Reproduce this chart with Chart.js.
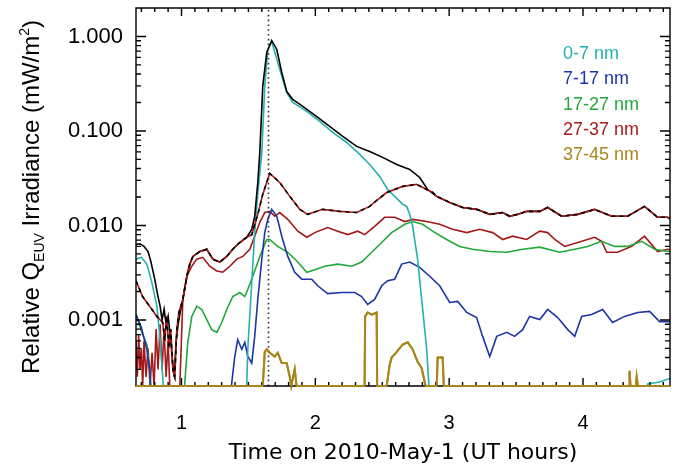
<!DOCTYPE html>
<html>
<head>
<meta charset="utf-8">
<script src="https://cdn.jsdelivr.net/npm/chart.js@4"></script>
<style>
  html, body { margin: 0; padding: 0; background: #fff; }
  #wrap { width: 680px; height: 470px; }
</style>
</head>
<body>
<div id="wrap"><canvas id="euv"></canvas></div>
<script>
// axis ranges and tick labels
var xMin = 0.66, xMax = 4.65;
var yMin = 0.0002, yMax = 2;
var xTicks = [1, 2, 3, 4];
var yTicks = [0.001, 0.01, 0.1, 1];
var flareTime = 1.65;

var bandLabels = ["0-7 nm", "7-17 nm", "17-27 nm", "27-37 nm", "37-45 nm"];
var bandColors = ["#26b0b0", "#1c36a6", "#22a83a", "#a81c1c", "#a8861c"];

// total (black)
var totalT = [0.66, 0.69, 0.72, 0.75, 0.77, 0.80, 0.82, 0.84, 0.855, 0.87,
  0.885, 0.90, 0.915, 0.93, 0.945, 0.96, 0.975, 0.99, 1.01, 1.04,
  1.062, 1.085, 1.137, 1.189, 1.234, 1.286, 1.338, 1.383, 1.435, 1.488,
  1.525, 1.547, 1.570, 1.585, 1.607, 1.637, 1.674, 1.712, 1.749, 1.786,
  1.831, 1.906, 2.011, 2.107, 2.205, 2.309, 2.406, 2.503, 2.608, 2.705,
  2.780, 2.839, 2.907, 3.004, 3.101, 3.205, 3.303, 3.400, 3.452, 3.52,
  3.579, 3.677, 3.736, 3.841, 3.960, 4.087, 4.214, 4.333, 4.460, 4.557,
  4.632, 4.65];
var totalV = [0.0063, 0.0064, 0.0060, 0.0053, 0.0042, 0.0027, 0.0019, 0.0014, 0.0010, 0.0013,
  0.0009, 0.0011, 0.0007, 0.0004, 0.00025, 0.0006, 0.0009, 0.0012, 0.00165, 0.0029,
  0.0039, 0.0047, 0.0053, 0.0056, 0.0044, 0.0041, 0.0047, 0.0056, 0.0066, 0.0075,
  0.0091, 0.0125, 0.0285, 0.059, 0.296, 0.677, 0.907, 0.728, 0.416, 0.262,
  0.216, 0.182, 0.142, 0.112, 0.0875, 0.0686, 0.0607, 0.0525, 0.0442, 0.0392,
  0.0322, 0.024, 0.0203, 0.0175, 0.0155, 0.0148, 0.0131, 0.0137, 0.0125, 0.0132,
  0.0141, 0.0141, 0.0155, 0.0125, 0.0131, 0.0148, 0.0125, 0.0125, 0.0159, 0.0122,
  0.0122, 0.0118];

// sum without 0-7 nm (dashed)
var sumT = [0.66, 0.709, 0.763, 0.816, 0.86, 0.875, 0.89, 0.905, 0.92, 0.935,
  0.95, 0.965, 0.98, 1.01, 1.04, 1.062, 1.085, 1.137, 1.189, 1.234,
  1.286, 1.338, 1.383, 1.435, 1.488, 1.525, 1.570, 1.607, 1.659, 1.734,
  1.809, 1.884, 1.943, 2.055, 2.182, 2.309, 2.406, 2.466, 2.533, 2.653,
  2.757, 2.832, 2.877, 2.907, 3.004, 3.101, 3.205, 3.303, 3.400, 3.452,
  3.52, 3.579, 3.677, 3.736, 3.841, 3.960, 4.087, 4.214, 4.333, 4.460,
  4.557, 4.632, 4.65];
var sumV = [0.0026, 0.00177, 0.00139, 0.00109, 0.00094, 0.0006, 0.0011, 0.0005, 0.0008, 0.0003,
  0.00025, 0.0008, 0.0012, 0.00165, 0.0029, 0.0039, 0.0047, 0.0053, 0.0056, 0.0044,
  0.0041, 0.0047, 0.0056, 0.0066, 0.0075, 0.0080, 0.0131, 0.0213, 0.0355, 0.0285,
  0.0203, 0.0148, 0.0131, 0.0148, 0.0141, 0.0137, 0.0159, 0.0188, 0.0223, 0.0259,
  0.0272, 0.024, 0.0223, 0.0203, 0.0175, 0.0155, 0.0148, 0.0131, 0.0137, 0.0125,
  0.0132, 0.0141, 0.0141, 0.0155, 0.0125, 0.0131, 0.0148, 0.0125, 0.0125, 0.0159,
  0.0122, 0.0122, 0.0118];

// 0-7 nm
var c07T = [0.66, 0.70, 0.741, 0.778, 0.816, 0.838, 0.86, 0.875, 1.48, 1.488,
  1.495, 1.525, 1.547, 1.570, 1.600, 1.622, 1.645, 1.674, 1.734, 1.786,
  1.831, 1.936, 2.033, 2.130, 2.234, 2.332, 2.406, 2.481, 2.540, 2.593,
  2.653, 2.682, 2.705, 2.727, 2.764, 2.802, 2.832, 2.847, 2.86, 4.47,
  4.483, 4.572, 4.65];
var c07V = [0.0044, 0.0046, 0.0039, 0.0025, 0.0014, 0.00067, 0.00025, 0.0001, 0.0001, 0.00022,
  0.00049, 0.0025, 0.0084, 0.022, 0.059, 0.296, 0.728, 0.885, 0.448, 0.255,
  0.200, 0.161, 0.126, 0.0965, 0.0755, 0.0564, 0.0442, 0.033, 0.024, 0.0203,
  0.0167, 0.0159, 0.0131, 0.0098, 0.0044, 0.0013, 0.00049, 0.00022, 0.0001, 0.0001,
  0.00021, 0.00022, 0.00024];

// 7-17 nm
var b717T = [0.659, 0.666, 0.70, 0.741, 0.763, 0.78, 1.36, 1.376, 1.398, 1.420,
  1.450, 1.473, 1.495, 1.525, 1.547, 1.570, 1.600, 1.622, 1.645, 1.674,
  1.712, 1.749, 1.794, 1.846, 1.898, 1.973, 2.018, 2.092, 2.197, 2.294,
  2.346, 2.391, 2.443, 2.496, 2.540, 2.593, 2.645, 2.705, 2.780, 2.854,
  2.929, 3.004, 3.064, 3.131, 3.205, 3.250, 3.303, 3.355, 3.430, 3.489,
  3.549, 3.601, 3.677, 3.736, 3.811, 3.886, 3.938, 3.990, 4.064, 4.147,
  4.221, 4.311, 4.408, 4.498, 4.572, 4.632, 4.65];
var b717V = [0.00114, 0.00109, 0.00083, 0.00049, 0.0003, 0.0001, 0.0001, 0.00022, 0.00041, 0.00062,
  0.00049, 0.00058, 0.00041, 0.00035, 0.00067, 0.00165, 0.0044, 0.0084, 0.0116, 0.0148,
  0.0125, 0.0077, 0.0047, 0.0032, 0.0027, 0.0027, 0.0023, 0.0019, 0.00195, 0.00195,
  0.00177, 0.00146, 0.00165, 0.0023, 0.0026, 0.0027, 0.0039, 0.0041, 0.0036, 0.0029,
  0.0023, 0.00153, 0.00157, 0.0012, 0.00106, 0.00067, 0.00041, 0.00067, 0.00074, 0.00067,
  0.00079, 0.00109, 0.00101, 0.00129, 0.00106, 0.00079, 0.00067, 0.00109, 0.00114, 0.00129,
  0.00094, 0.00109, 0.0012, 0.00123, 0.00096, 0.00096, 0.00096];

// 17-27 nm
var g1727T = [0.66, 0.709, 0.741, 0.763, 0.78, 1.01, 1.025, 1.047, 1.077, 1.114,
  1.152, 1.189, 1.226, 1.264, 1.301, 1.338, 1.383, 1.435, 1.473, 1.495,
  1.532, 1.585, 1.637, 1.659, 1.719, 1.794, 1.869, 1.936, 1.996, 2.070,
  2.167, 2.272, 2.346, 2.421, 2.496, 2.570, 2.668, 2.727, 2.802, 2.877,
  2.981, 3.078, 3.175, 3.303, 3.430, 3.549, 3.677, 3.826, 3.938, 4.035,
  4.139, 4.236, 4.333, 4.438, 4.535, 4.632, 4.65];
var g1727V = [0.00114, 0.0007, 0.00055, 0.00029, 0.0001, 0.0001, 0.00022, 0.00058, 0.00109, 0.00139,
  0.00129, 0.00101, 0.00079, 0.00074, 0.00094, 0.00129, 0.00177, 0.00195, 0.00177, 0.0021,
  0.00288, 0.0047, 0.0071, 0.0071, 0.006, 0.0052, 0.0041, 0.0032, 0.0034, 0.0037,
  0.0039, 0.0037, 0.0041, 0.0052, 0.0066, 0.0084, 0.0103, 0.011, 0.0103, 0.0087,
  0.0071, 0.006, 0.0056, 0.0053, 0.0052, 0.0056, 0.0059, 0.0052, 0.0056, 0.006,
  0.0068, 0.006, 0.006, 0.0068, 0.0056, 0.0053, 0.0053];

// 27-37 nm
var r2737T = [0.66, 0.67, 0.68, 0.69, 0.70, 0.71, 0.72, 0.735, 0.75, 0.765,
  0.78, 0.795, 0.81, 0.825, 0.84, 0.855, 0.87, 0.885, 0.90, 0.92,
  0.98, 1.01, 1.04, 1.077, 1.114, 1.159, 1.211, 1.264, 1.308, 1.361,
  1.413, 1.458, 1.510, 1.547, 1.585, 1.622, 1.659, 1.697, 1.734, 1.794,
  1.869, 1.936, 1.996, 2.092, 2.167, 2.242, 2.317, 2.369, 2.443, 2.518,
  2.593, 2.668, 2.727, 2.832, 2.929, 3.026, 3.131, 3.228, 3.325, 3.400,
  3.475, 3.579, 3.677, 3.736, 3.789, 3.863, 3.960, 4.087, 4.139, 4.177,
  4.259, 4.363, 4.460, 4.557, 4.632, 4.65];
var r2737V = [0.0006, 0.00025, 0.0007, 0.0003, 0.0005, 0.0002, 0.0006, 0.00025, 0.0005, 0.0002,
  0.00045, 0.0002, 0.0008, 0.0003, 0.0009, 0.0003, 0.0008, 0.00025, 0.0006, 0.0001,
  0.0001, 0.00165, 0.0029, 0.0037, 0.0044, 0.0046, 0.0037, 0.0033, 0.0032, 0.0037,
  0.0044, 0.0047, 0.0056, 0.0077, 0.0108, 0.0137, 0.0141, 0.0125, 0.0137, 0.0116,
  0.0087, 0.0075, 0.0084, 0.0095, 0.0087, 0.0080, 0.0087, 0.0080, 0.0098, 0.0122,
  0.0122, 0.011, 0.0116, 0.011, 0.0103, 0.0091, 0.0084, 0.0091, 0.0084, 0.0071,
  0.0077, 0.0071, 0.0087, 0.0084, 0.0071, 0.006, 0.0066, 0.0075, 0.0068, 0.0052,
  0.0052, 0.006, 0.0077, 0.0053, 0.0056, 0.0055];

// 37-45 nm (sits on the axis floor most of the time)
var y3745T = [0.66, 1.607, 1.622, 1.637, 1.659, 1.697, 1.719, 1.749, 1.786, 1.809,
  1.82, 1.846, 1.86, 2.368, 2.372, 2.391, 2.421, 2.458, 2.462, 2.533,
  2.555, 2.570, 2.608, 2.653, 2.690, 2.727, 2.764, 2.794, 2.817, 2.825,
  2.907, 2.914, 2.951, 2.96, 4.345, 4.348, 4.355, 4.395, 4.401, 4.41,
  4.65];
var y3745V = [0.0002, 0.0002, 0.00046, 0.00049, 0.00045, 0.00041, 0.00045, 0.00035, 0.00035, 0.00025,
  0.0002, 0.0003, 0.0002, 0.0002, 0.00109, 0.0012, 0.00114, 0.0012, 0.0002, 0.0002,
  0.00033, 0.0004, 0.00046, 0.00055, 0.00058, 0.00049, 0.00036, 0.00031, 0.00022, 0.0002,
  0.0002, 0.0004, 0.0004, 0.0002, 0.0002, 0.00029, 0.0002, 0.0002, 0.00025, 0.0002,
  0.0002];

// tick mark values (minor and major)
var xTickMarks = [];
for (var n = 7; n <= 46; n++) xTickMarks.push(n / 10);
var yTickMarks = [];
[0.0001, 0.001, 0.01, 0.1, 1].forEach(function (d) {
  for (var m = 1; m <= 9; m++) yTickMarks.push(m * d);
});

function pts(ts, vs) {
  return ts.map(function (t, j) { return { x: t, y: vs[j] }; });
}

function curve(data, color, extra) {
  var ds = {
    data: data,
    borderColor: color,
    borderWidth: 1.6,
    pointRadius: 0,
    fill: false,
    tension: 0,
  };
  Object.keys(extra).forEach(function (key) { ds[key] = extra[key]; });
  return ds;
}

var GOLD = 8; // index of the 37-45 nm dataset

// frame plus inward tick marks on all four sides, one path
var inTicks = {
  id: "inTicks",
  afterDraw: function (chart) {
    var ctx = chart.ctx, a = chart.chartArea;
    var L = a.left, R = a.right, T = a.top, B = a.bottom;
    var lMin = Math.log(yMin), lMax = Math.log(yMax);
    ctx.save();
    ctx.strokeStyle = "#000";
    ctx.lineWidth = 1.4;
    ctx.beginPath();
    ctx.rect(L, T, R - L, B - T);
    xTickMarks.forEach(function (v) {
      var px = L + (v - xMin) / (xMax - xMin) * (R - L);
      var len = xTicks.indexOf(v) >= 0 ? 8 : 4;
      ctx.moveTo(px, B); ctx.lineTo(px, B - len);
      ctx.moveTo(px, T); ctx.lineTo(px, T + len);
    });
    yTickMarks.forEach(function (v) {
      if (v < yMin || v > yMax) return;
      var py = B - (Math.log(v) - lMin) / (lMax - lMin) * (B - T);
      var len = yTicks.indexOf(v) >= 0 ? 10 : 5;
      ctx.moveTo(L, py); ctx.lineTo(L + len, py);
      ctx.moveTo(R, py); ctx.lineTo(R - len, py);
    });
    ctx.stroke();
    ctx.restore();
    // the 37-45 nm curve lies on the bottom axis, keep it on top
    var meta = chart.getDatasetMeta(GOLD);
    if (meta && meta.controller) meta.controller.draw();
  },
};

// legend and y title
var labelsPlugin = {
  id: "labelsText",
  afterDraw: function (chart) {
    var ctx = chart.ctx, a = chart.chartArea;
    ctx.save();
    ctx.font = '18px "Liberation Sans", Arial, sans-serif';
    ctx.textBaseline = "alphabetic";
    ctx.textAlign = "left";
    bandLabels.forEach(function (lab, k) {
      ctx.fillStyle = bandColors[k];
      ctx.fillText(lab, a.right - 107, a.top + 51 + k * 25.3);
    });
    var parts = [
      ["Relative Q", 24, 0],
      ["EUV", 14, 5],
      [" Irradiance (mW/m", 24, 0],
      ["2", 14, -10],
      [")", 24, 0],
    ];
    var total = 0;
    parts.forEach(function (p) {
      ctx.font = p[1] + 'px "Liberation Sans", Arial, sans-serif';
      p.push(ctx.measureText(p[0]).width);
      total += p[3];
    });
    ctx.translate(39, 197);
    ctx.rotate(-Math.PI / 2);
    ctx.fillStyle = "#000";
    var cx = -total / 2;
    parts.forEach(function (p) {
      ctx.font = p[1] + 'px "Liberation Sans", Arial, sans-serif';
      ctx.fillText(p[0], cx, p[2]);
      cx += p[3];
    });
    ctx.restore();
  },
};

new Chart(document.getElementById("euv"), {
  type: "line",
  data: {
    datasets: [
      curve(pts([flareTime, flareTime], [yMin, yMax]), "#333", { borderWidth: 1.6, borderDash: [1.6, 3.2] }),
      curve(pts(sumT, sumV), "#000", { borderDash: [4, 4] }),
      curve(pts(sumT, sumV), "#b01818", {}),
      curve(pts(totalT, totalV), "#000", {}),
      curve(pts(c07T, c07V), bandColors[0], {}),
      curve(pts(b717T, b717V), bandColors[1], {}),
      curve(pts(g1727T, g1727V), bandColors[2], {}),
      curve(pts(r2737T, r2737V), "#a31818", {}),
      curve(pts(y3745T, y3745V), bandColors[4], { borderWidth: 2, clip: false }),
    ],
  },
  options: {
    responsive: true,
    maintainAspectRatio: false,
    animation: false,
    events: [],
    layout: { padding: { left: 0, top: 8, right: 10, bottom: 0 } },
    plugins: { legend: { display: false }, tooltip: { enabled: false } },
    scales: {
      x: {
        type: "linear",
        min: xMin,
        max: xMax,
        grid: { display: false, drawTicks: false },
        border: { display: false },
        afterBuildTicks: function (s) { s.ticks = xTicks.map(function (v) { return { value: v }; }); },
        afterFit: function (s) { s.height = 84; },
        ticks: {
          padding: 25,
          color: "#000",
          font: { family: '"Liberation Sans", Arial, sans-serif', size: 20 },
          callback: function (v) { return String(v); },
        },
        title: {
          display: true,
          text: "Time on 2010-May-1 (UT hours)",
          color: "#000",
          font: { family: '"DejaVu Sans", sans-serif', size: 22 },
          padding: { top: 4, bottom: 4 },
        },
      },
      y: {
        type: "logarithmic",
        min: yMin,
        max: yMax,
        grid: { display: false, drawTicks: false },
        border: { display: false },
        afterBuildTicks: function (s) { s.ticks = yTicks.map(function (v) { return { value: v }; }); },
        afterFit: function (s) { s.width = 136; s.paddingTop = 0; s.paddingBottom = 0; },
        ticks: {
          padding: 13,
          autoSkip: false,
          color: "#000",
          font: { family: '"Liberation Sans", Arial, sans-serif', size: 22 },
          callback: function (v) { return Number(v).toFixed(3); },
        },
      },
    },
  },
  plugins: [inTicks, labelsPlugin],
});
</script>
</body>
</html>
